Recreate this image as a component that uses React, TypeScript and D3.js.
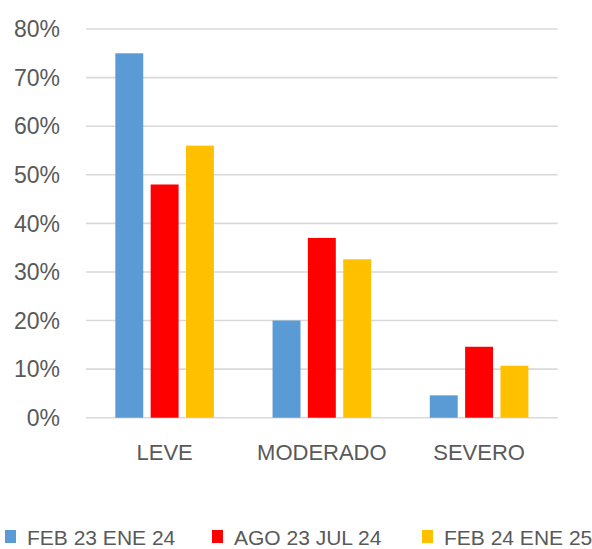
import React, { useRef, useEffect } from "react";
import * as d3 from "d3";

const categories = ["LEVE", "MODERADO", "SEVERO"];
const seriesNames = ["FEB 23 ENE 24", "AGO 23 JUL 24", "FEB 24 ENE 25"];
const feb23ene24 = [75, 20, 4.6];
const ago23jul24 = [48, 37, 14.6];
const feb24ene25 = [56, 32.6, 10.7];
const yTicks = [0, 10, 20, 30, 40, 50, 60, 70, 80];
const colors = ["#5B9BD5", "#FF0000", "#FFC000"];

const W = 592;
const H = 549;

const App = () => {
  const svgRef = useRef<SVGSVGElement>(null);

  useEffect(() => {
    const svg = d3.select(svgRef.current);
    svg.selectAll("*").remove();
    const font = "'Liberation Sans', Arial, sans-serif";
    const textColor = "#595959";

    const series = [feb23ene24, ago23jul24, feb24ene25];
    const left = 86, right = 557.7, top = 29, bottom = 417.7;

    const x = d3.scaleBand().domain(categories).range([left, right]).paddingInner(0).paddingOuter(0);
    const inner = d3.scaleBand()
      .domain(seriesNames)
      .range([0, x.bandwidth()])
      .paddingInner(0.21)
      .paddingOuter(0.83);
    const y = d3.scaleLinear().domain([0, 80]).range([bottom, top]);

    // gridlines
    svg.append("g")
      .selectAll("line")
      .data(yTicks)
      .enter()
      .append("line")
      .attr("x1", left)
      .attr("x2", right)
      .attr("y1", d => y(d))
      .attr("y2", d => y(d))
      .attr("stroke", "#d9d9d9")
      .attr("stroke-width", 1.6);

    // y labels
    svg.append("g")
      .selectAll("text")
      .data(yTicks)
      .enter()
      .append("text")
      .attr("x", 60)
      .attr("y", d => y(d))
      .attr("dy", "0.36em")
      .attr("text-anchor", "end")
      .attr("font-family", font)
      .attr("font-size", 23)
      .attr("fill", textColor)
      .text(d => d + "%");

    // bars
    series.forEach((vals, si) => {
      svg.append("g")
        .selectAll("rect")
        .data(vals)
        .enter()
        .append("rect")
        .attr("x", (d, i) => (x(categories[i]) ?? 0) + (inner(seriesNames[si]) ?? 0))
        .attr("y", d => y(d))
        .attr("width", inner.bandwidth())
        .attr("height", d => y(0) - y(d))
        .attr("fill", colors[si]);
    });

    // category labels
    svg.append("g")
      .selectAll("text")
      .data(categories)
      .enter()
      .append("text")
      .attr("x", d => (x(d) ?? 0) + x.bandwidth() / 2)
      .attr("y", 452)
      .attr("dy", "0.36em")
      .attr("text-anchor", "middle")
      .attr("font-family", font)
      .attr("font-size", 22)
      .attr("fill", textColor)
      .text(d => d);

    // legend
    const legendX = [5, 212, 422];
    const lg = svg.append("g");
    seriesNames.forEach((name, i) => {
      lg.append("rect")
        .attr("x", legendX[i])
        .attr("y", 530)
        .attr("width", 11)
        .attr("height", 13)
        .attr("fill", colors[i]);
      lg.append("text")
        .attr("x", legendX[i] + 22)
        .attr("y", 537)
        .attr("dy", "0.36em")
        .attr("font-family", font)
        .attr("font-size", 21)
        .attr("fill", textColor)
        .text(name);
    });
  }, []);

  return (
    <svg
      ref={svgRef}
      width={W}
      height={H}
      style={{ position: "absolute", left: 0, top: 0, background: "#fff" }}
    ></svg>
  );
};

export default App;
